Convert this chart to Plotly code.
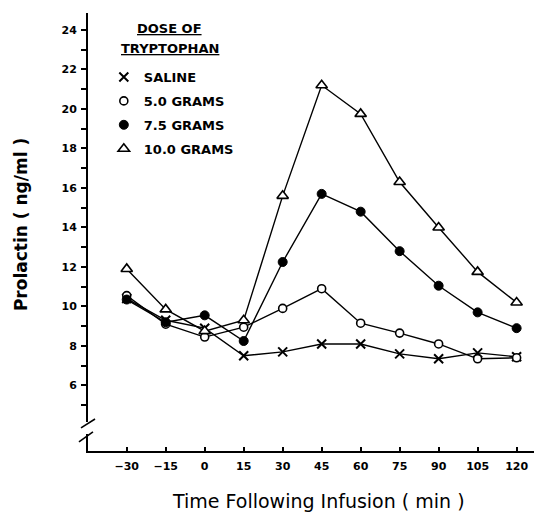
import plotly.graph_objects as go

# ---- data ----
times = [-30, -15, 0, 15, 30, 45, 60, 75, 90, 105, 120]
saline = [10.4, 9.3, 8.9, 7.5, 7.7, 8.1, 8.1, 7.6, 7.35, 7.65, 7.45]
grams_5_0 = [10.55, 9.1, 8.45, 8.95, 9.9, 10.9, 9.15, 8.65, 8.1, 7.35, 7.4]
grams_7_5 = [10.35, 9.2, 9.55, 8.25, 12.25, 15.7, 14.8, 12.8, 11.05, 9.7, 8.9]
grams_10_0 = [11.9, 9.85, 8.75, 9.3, 15.6, 21.2, 19.75, 16.3, 14.0, 11.75, 10.2]

series_names = ["SALINE", "5.0 GRAMS", "7.5 GRAMS", "10.0 GRAMS"]
x_tick_vals = times
y_tick_vals = [6, 8, 10, 12, 14, 16, 18, 20, 22, 24]
y_minor_vals = [5, 7, 9, 11, 13, 15, 17, 19, 21, 23]

FONT = "DejaVu Sans"
INK = "black"

styles = [
    dict(symbol="x-thin-open", size=9, color=INK, line=dict(color=INK, width=2)),
    dict(symbol="circle", size=8, color="white", line=dict(color=INK, width=1.6)),
    dict(symbol="circle", size=9, color=INK, line=dict(color=INK, width=1)),
    dict(symbol="triangle-up", size=10, color="white", line=dict(color=INK, width=1.6)),
]
values = [saline, grams_5_0, grams_7_5, grams_10_0]

fig = go.Figure()
for name, vals, st in zip(series_names, values, styles):
    fig.add_trace(go.Scatter(
        x=times, y=vals, mode="lines+markers", name=name,
        line=dict(color=INK, width=1.4), marker=st, showlegend=False,
        cliponaxis=False,
    ))
# legend entries (marker only)
for i, (name, st) in enumerate(zip(series_names, styles)):
    fig.add_trace(go.Scatter(
        x=[None], y=[None], mode="markers", name=name, marker=st,
        legendgroup=f"g{i}", showlegend=True,
    ))

# the page adds an 8px body margin, so margins are offset by -8 px
fig.update_layout(
    width=542, height=517,
    margin=dict(l=80, r=10, t=5, b=74),
    paper_bgcolor="white", plot_bgcolor="white",
    font=dict(family=FONT, color=INK),
    showlegend=True,
    legend=dict(
        x=0.035, y=0.888, xanchor="left", yanchor="top",
        bgcolor="rgba(0,0,0,0)", borderwidth=0,
        font=dict(family=FONT, size=13, weight="bold", color=INK),
        tracegroupgap=4, traceorder="grouped",
    ),
    xaxis=dict(
        range=[-44.9, 129], showgrid=False, zeroline=False,
        showline=True, linecolor=INK, linewidth=2,
        tickmode="array", tickvals=x_tick_vals,
        ticks="inside", ticklen=4, tickwidth=1.5, tickcolor=INK,
        tickfont=dict(family=FONT, size=11, weight="bold", color=INK),
        ticklabelstandoff=4,
    ),
    yaxis=dict(
        range=[2.68, 24.86], showgrid=False, zeroline=False,
        showline=True, linecolor=INK, linewidth=2,
        tickmode="array", tickvals=y_tick_vals,
        ticks="outside", ticklen=5, tickwidth=1.5, tickcolor=INK,
        tickfont=dict(family=FONT, size=11, weight="bold", color=INK),
        ticklabelstandoff=2,
        minor=dict(tickmode="array", tickvals=y_minor_vals, ticks="outside",
                   ticklen=5, tickwidth=1.5, tickcolor=INK),
    ),
)

# axis break on y axis
fig.add_shape(type="rect", xref="paper", yref="y", x0=-0.02, x1=0.02,
              y0=3.54, y1=4.15, fillcolor="white", line=dict(width=0), layer="above")
fig.add_shape(type="line", xref="paper", yref="y", x0=-0.0155, y0=3.85,
              x1=0.0155, y1=4.3, line=dict(color=INK, width=1.6), layer="above")
fig.add_shape(type="line", xref="paper", yref="y", x0=-0.02, y0=3.14,
              x1=0.011, y1=3.65, line=dict(color=INK, width=1.6), layer="above")

# legend title
fig.add_annotation(text="<u>DOSE OF</u>", xref="paper", yref="paper",
                   x=0.1814, y=0.9635, xanchor="center", yanchor="middle",
                   showarrow=False, font=dict(family=FONT, size=13, weight="bold", color=INK))
fig.add_annotation(text="<u>TRYPTOPHAN</u>", xref="paper", yref="paper",
                   x=0.1814, y=0.920, xanchor="center", yanchor="middle",
                   showarrow=False, font=dict(family=FONT, size=13, weight="bold", color=INK))

# axis titles
fig.add_annotation(text="Prolactin ( ng/ml )", xref="paper", yref="paper",
                   x=-0.148, y=0.516, xanchor="center", yanchor="middle",
                   textangle=-90, showarrow=False,
                   font=dict(family=FONT, size=17, weight="bold", color=INK))
fig.add_annotation(text="Time Following Infusion ( min )", xref="paper", yref="paper",
                   x=0.511, y=-0.115, xanchor="center", yanchor="middle",
                   showarrow=False, font=dict(family=FONT, size=19, color=INK))

fig.write_html("out.html")
